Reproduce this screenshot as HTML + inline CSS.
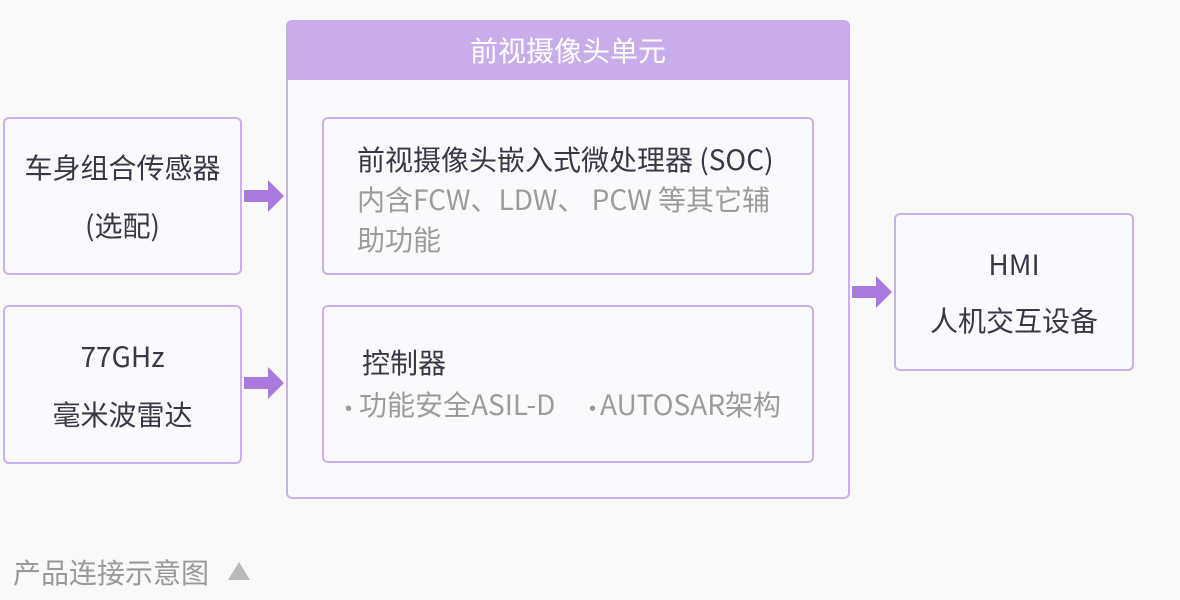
<!DOCTYPE html>
<html><head><meta charset="utf-8"><style>
body{margin:0;width:1180px;height:600px;background:#f9f9fa;font-family:"Noto Sans CJK SC","Liberation Sans",sans-serif;position:relative;overflow:hidden;color:#3b3646}
.b{position:absolute;box-sizing:border-box;border:2px solid #cbb0ec;border-radius:6px;background:#fafafc}
.c{display:flex;flex-direction:column;align-items:center;justify-content:center;font-size:28px;line-height:56px;text-align:center}
.t{position:absolute;font-size:28px;white-space:nowrap;line-height:40px}
.g{color:#9b9b9b}
.d{font-family:'Liberation Sans';font-size:20px;margin-right:7px}
svg{position:absolute}
</style></head><body>
<div class="b c" style="left:3px;top:117px;width:239px;height:158px;line-height:58px"><div>车身组合传感器</div><div>(选配)</div></div>
<div class="b c" style="left:3px;top:305px;width:239px;height:159px;line-height:58px"><div>77GHz</div><div>毫米波雷达</div></div>
<div class="b" style="left:286px;top:20px;width:564px;height:479px"></div>
<div style="position:absolute;left:286px;top:20px;width:564px;height:60px;background:#c9adea;border-radius:6px 6px 0 0;color:#fff;font-size:28px;text-align:center;line-height:60px">前视摄像头单元</div>
<div class="b" style="left:322px;top:117px;width:492px;height:158px"></div>
<div class="t" style="left:357px;top:139px">前视摄像头嵌入式微处理器 (SOC)</div>
<div class="t g" style="left:357px;top:179px;white-space:normal;width:440px">内含FCW、LDW、 PCW 等其它辅助功能</div>
<div class="b" style="left:322px;top:305px;width:492px;height:158px"></div>
<div class="t" style="left:362px;top:342px">控制器</div>
<div class="t g" style="left:345px;top:384px"><span class="d">•</span>功能安全ASIL-D</div>
<div class="t g" style="left:589px;top:384px"><span class="d" style="margin-right:4px">•</span>AUTOSAR架构</div>
<div class="b c" style="left:894px;top:213px;width:240px;height:158px"><div>HMI</div><div>人机交互设备</div></div>
<svg width="1180" height="600" style="left:0;top:0">
<g fill="#a979dd">
<polygon points="244,190 268,190 268,180 284,196 268,212 268,202 244,202"/>
<polygon points="244,377 268,377 268,367 284,383 268,399 268,389 244,389"/>
<polygon points="852,286 876,286 876,276 892,292 876,308 876,298 852,298"/>
</g>
<polygon points="228,580 239,562 250,580" fill="#b9b9b9"/>
</svg>
<div class="t" style="left:13px;top:552px;color:#999">产品连接示意图</div>
</body></html>
